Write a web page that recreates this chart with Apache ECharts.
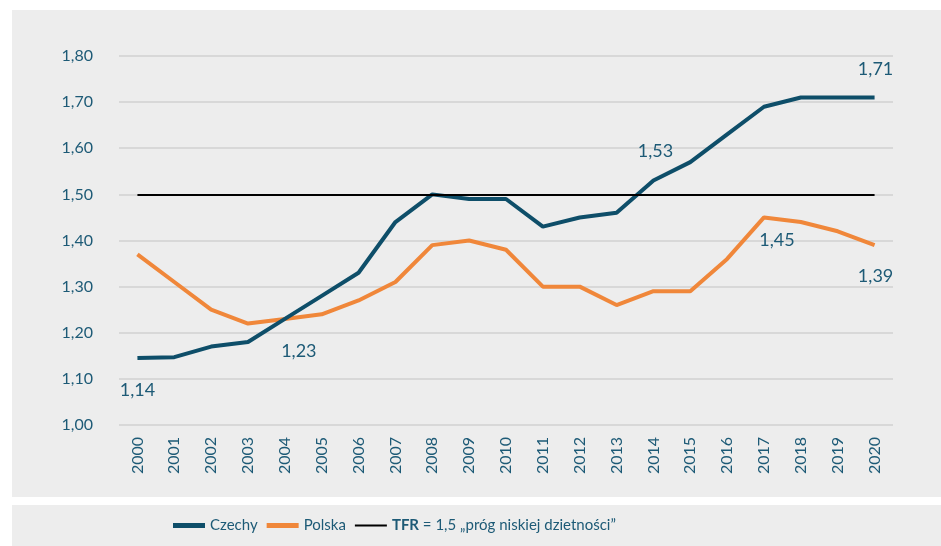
<!DOCTYPE html>
<html>
<head>
<meta charset="utf-8">
<script src="https://cdn.jsdelivr.net/npm/echarts@6/dist/echarts.min.js"></script>
<style>
  html, body { margin: 0; padding: 0; background: #fff; }
  #chart { width: 941px; height: 546px; }
</style>
</head>
<body>
<div id="chart"></div>
<script>
// lata i wartości TFR
var years = ['2000', '2001', '2002', '2003', '2004', '2005', '2006', '2007', '2008', '2009', '2010',
  '2011', '2012', '2013', '2014', '2015', '2016', '2017', '2018', '2019', '2020'];
var czechy = [1.145, 1.147, 1.17, 1.18, 1.23, 1.28, 1.33, 1.44, 1.50, 1.49, 1.49,
  1.43, 1.45, 1.46, 1.53, 1.57, 1.63, 1.69, 1.71, 1.71, 1.71];
var polska = [1.37, 1.31, 1.25, 1.22, 1.23, 1.24, 1.27, 1.31, 1.39, 1.40, 1.38,
  1.30, 1.30, 1.26, 1.29, 1.29, 1.36, 1.45, 1.44, 1.42, 1.39];
var yTicks = ['1,00', '1,10', '1,20', '1,30', '1,40', '1,50', '1,60', '1,70', '1,80'];
var progTfr = 1.5;

var teal = '#0e4e69';
var orange = '#f0873a';
var textCol = '#1d5a76';
var font = 'Lato, "Noto Sans", sans-serif';

// etykiety przy wybranych punktach: indeks -> [tekst, offset]
var czechyLabels = { 0: ['1,14', [0, 32]], 4: ['1,23', [14, 32]], 14: ['1,53', [2, -29]], 20: ['1,71', [1, -28]] };
var polskaLabels = { 17: ['1,45', [13, 23]], 20: ['1,39', [1, 31]] };

function withLabels (values, labels) {
  return values.map(function (v, i) {
    if (!labels[i]) return v;
    return {
      value: v,
      label: {
        show: true,
        position: 'inside',
        formatter: labels[i][0],
        offset: labels[i][1],
        color: textCol,
        fontSize: 18,
        fontFamily: font
      }
    };
  });
}

var chart = echarts.init(document.getElementById('chart'));
var option = {
  backgroundColor: '#fff',
  animation: false,
  graphic: [
    { type: 'rect', z: -10, shape: { x: 12, y: 10, width: 929, height: 487 }, style: { fill: '#ededed' } },
    { type: 'rect', z: -10, shape: { x: 12, y: 505, width: 929, height: 41 }, style: { fill: '#ededed' } }
  ],
  grid: { left: 119, right: 48, top: 56, bottom: 121 },
  legend: {
    bottom: 8,
    left: 168,
    itemWidth: 32,
    itemHeight: 6,
    itemGap: 9,
    textStyle: {
      color: textCol, fontSize: 15, fontFamily: font,
      rich: { b: { fontWeight: 'bold', color: textCol, fontSize: 15, fontFamily: font } }
    },
    formatter: function (name) {
      if (name === 'TFR') return '{b|TFR} = 1,5 „próg niskiej dzietności”';
      return name;
    },
    data: [
      { name: 'Czechy', icon: 'path://M0,0H32V5H0Z' },
      { name: 'Polska', icon: 'path://M0,0H32V5H0Z' },
      { name: 'TFR', icon: 'path://M0,0H32V2H0Z' }
    ]
  },
  xAxis: {
    type: 'category',
    data: years,
    boundaryGap: true,
    axisLine: { show: false },
    axisTick: { show: false },
    axisLabel: { rotate: 90, margin: 12, color: textCol, fontSize: 16, fontFamily: font }
  },
  yAxis: {
    type: 'value',
    min: 1.0,
    max: 1.8,
    interval: 0.1,
    axisLine: { show: false },
    axisTick: { show: false },
    splitLine: { lineStyle: { color: '#d8d8d8', width: 2 } },
    axisLabel: {
      margin: 26,
      color: textCol,
      fontSize: 16,
      fontFamily: font,
      formatter: function (v) { return yTicks[Math.round((v - 1) * 10)]; }
    }
  },
  series: [
    {
      name: 'TFR',
      type: 'line',
      data: [],
      color: '#000',
      lineStyle: { color: '#000', width: 2 },
      symbol: 'none',
      markLine: {
        silent: true,
        symbol: 'none',
        label: { show: false },
        lineStyle: { color: '#000', width: 2, type: 'solid' },
        data: [[{ coord: [years[0], progTfr] }, { coord: [years[years.length - 1], progTfr] }]]
      }
    },
    {
      name: 'Polska',
      type: 'line',
      data: withLabels(polska, polskaLabels),
      color: orange,
      symbol: 'circle',
      symbolSize: 0,
      showSymbol: true,
      lineStyle: { color: orange, width: 4 },
      z: 3
    },
    {
      name: 'Czechy',
      type: 'line',
      data: withLabels(czechy, czechyLabels),
      color: teal,
      symbol: 'circle',
      symbolSize: 0,
      showSymbol: true,
      lineStyle: { color: teal, width: 4 },
      z: 4
    }
  ]
};
chart.setOption(option);
</script>
</body>
</html>
